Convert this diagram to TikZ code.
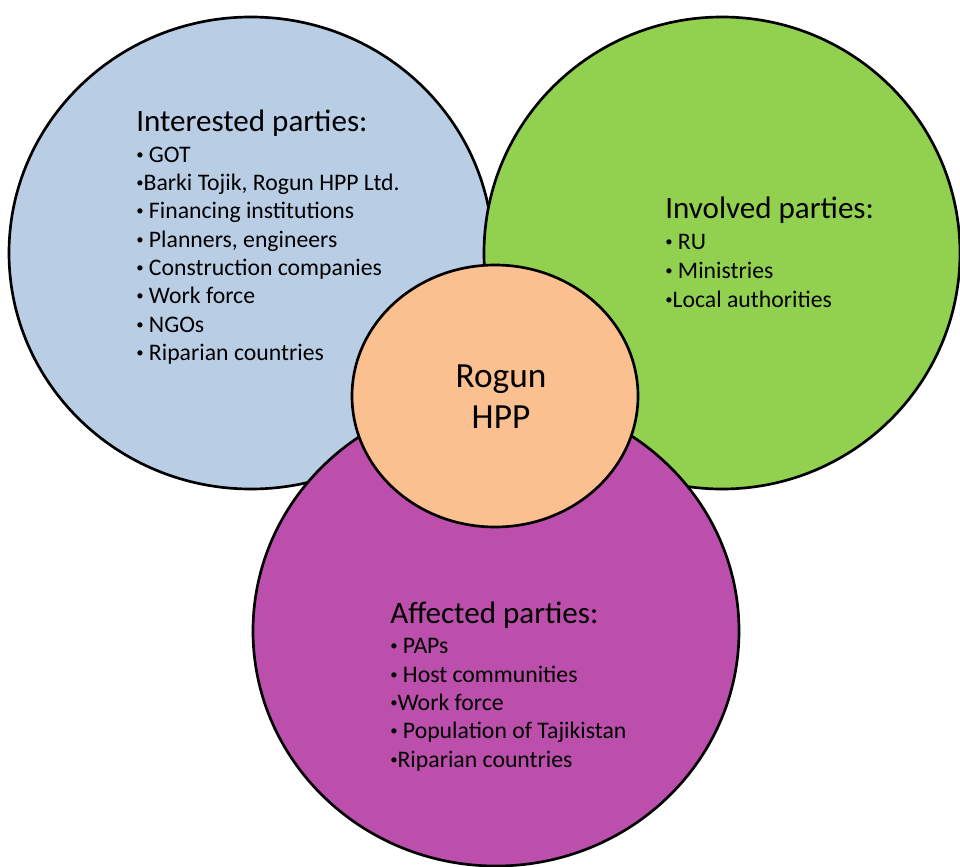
\documentclass[tikz,border=0pt]{standalone}
\usepackage{fontspec}
\setmainfont{Carlito}
\definecolor{cblue}{HTML}{B9CDE5}
\definecolor{cgreen}{HTML}{92D050}
\definecolor{cpurple}{HTML}{BC4FAC}
\definecolor{corange}{HTML}{FAC090}
\newcommand{\bul}{\raisebox{2.2pt}{\scalebox{0.62}{•}}}
\tikzset{
  party/.style={draw=black, line width=2pt},
  ttl/.style={anchor=base west, inner sep=0pt, font=\fontsize{23.3}{27}\selectfont},
  itm/.style={anchor=base west, inner sep=0pt, font=\fontsize{17.8}{21}\selectfont},
  hub/.style={anchor=base, inner sep=0pt, font=\fontsize{26.5}{31}\selectfont}
}
\begin{document}
\begin{tikzpicture}[x=0.75pt,y=-0.75pt]
\useasboundingbox (0,0) rectangle (960,867);
\fill[white] (0,0) rectangle (960,867);
% circles
\draw[party, fill=cblue] (251,253) ellipse [x radius=242, y radius=236];
\draw[party, fill=cgreen] (722,253) ellipse [x radius=238, y radius=236];
\draw[party, fill=cpurple] (496,631) ellipse [x radius=243, y radius=235];
\draw[party, fill=corange] (495,396) ellipse [x radius=143, y radius=131];
% center
\node[hub] (r1) at (501,387) {Rogun};
\node[hub] (r2) at (501,428) {HPP};
% interested
\node[ttl] (it) at (136,132) {Interested parties:};
\node[itm] (i1) at (136,162) {\bul{} GOT};
\node[itm] (i2) at (136,190) {\bul Barki Tojik, Rogun HPP Ltd.};
\node[itm] (i3) at (136,218) {\bul{} Financing institutions};
\node[itm] (i4) at (136,247) {\bul{} Planners, engineers};
\node[itm] (i5) at (136,275) {\bul{} Construction companies};
\node[itm] (i6) at (136,303) {\bul{} Work force};
\node[itm] (i7) at (136,332) {\bul{} NGOs};
\node[itm] (i8) at (136,360) {\bul{} Riparian countries};
% involved
\node[ttl] (vt) at (665,218) {Involved parties:};
\node[itm] (v1) at (665,249) {\bul{} RU};
\node[itm] (v2) at (665,278) {\bul{} Ministries};
\node[itm] (v3) at (665,307) {\bul Local authorities};
% affected
\node[ttl] (at) at (390,623) {Affected parties:};
\node[itm] (a1) at (390,653) {\bul{} PAPs};
\node[itm] (a2) at (390,682) {\bul{} Host communities};
\node[itm] (a3) at (390,710) {\bul Work force};
\node[itm] (a4) at (390,738) {\bul{} Population of Tajikistan};
\node[itm] (a5) at (390,767) {\bul Riparian countries};
\end{tikzpicture}
\end{document}
